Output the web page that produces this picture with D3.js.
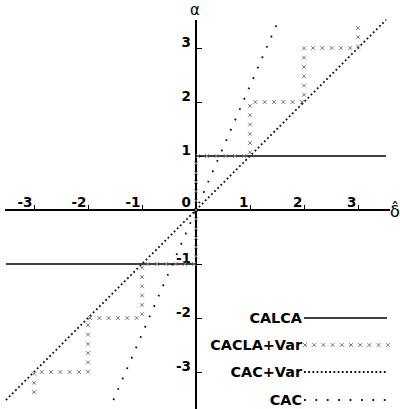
<!DOCTYPE html>
<html><head><meta charset="utf-8">
<script src="https://cdn.jsdelivr.net/npm/d3@7"></script>
<style>body{margin:0;background:#fff}svg{display:block}</style>
</head><body>
<svg id="c" width="400" height="409"></svg>
<script>
// ---- data ----
const tickValues = [-3, -2, -1, 1, 2, 3];
const tickLabels = ["-3", "-2", "-1", "1", "2", "3"];
const seriesNames = ["CALCA", "CACLA+Var", "CAC+Var", "CAC"];
// CALCA: alpha = sign(delta)
const calcaPos = [[0, 1], [3.52, 1]];
const calcaNeg = [[-3.52, -1], [0, -1]];
// CACLA+Var: staircase
const caclaPos = [[0, 0], [0, 1], [1, 1], [1, 2], [2, 2], [2, 3], [3, 3], [3, 3.52]];
const caclaNeg = [[0, 0], [0, -1], [-1, -1], [-1, -2], [-2, -2], [-2, -3], [-3, -3], [-3, -3.52]];
// CAC+Var: alpha = delta
const cacVar = [[-3.52, -3.52], [3.52, 3.52]];
// CAC: steep line
const cac = [[-1.53, -3.52], [1.53, 3.52]];

const svg = d3.select("#c");
const x = d3.scaleLinear().domain([-3.5, 3.5]).range([7, 385]);
const y = d3.scaleLinear().domain([-3.5, 3.5]).range([399, 21]);
const line = d3.line().x(d => x(d[0])).y(d => y(d[1]));
const font = "DejaVu Sans, sans-serif";
const fmt = d => tickLabels[tickValues.indexOf(d)];

// axes lines
svg.append("line").attr("x1", 5).attr("x2", 390).attr("y1", y(0)).attr("y2", y(0))
  .attr("stroke", "#000").attr("stroke-width", 2);
svg.append("line").attr("x1", x(0)).attr("x2", x(0)).attr("y1", 20).attr("y2", 409)
  .attr("stroke", "#000").attr("stroke-width", 2);

const gx = svg.append("g").attr("transform", `translate(0,${y(0)})`)
  .call(d3.axisTop(x).tickValues(tickValues).tickSize(5).tickSizeOuter(0).tickFormat(fmt));
gx.select(".domain").remove();
gx.selectAll("line").attr("stroke", "#000").attr("stroke-width", 1);
gx.selectAll("text").attr("text-anchor", "end").attr("x", -2).attr("y", -3).attr("dy", null)
  .attr("font-family", font).attr("font-weight", "bold").attr("font-size", 13.5).attr("fill", "#000");

const gy = svg.append("g").attr("transform", `translate(${x(0)},0)`)
  .call(d3.axisRight(y).tickValues(tickValues).tickSize(6).tickSizeOuter(0).tickFormat(fmt));
gy.select(".domain").remove();
gy.selectAll("line").attr("stroke", "#000").attr("stroke-width", 1);
gy.selectAll("text").attr("text-anchor", "end").attr("x", -5).attr("y", -1.5).attr("dy", null)
  .attr("font-family", font).attr("font-weight", "bold").attr("font-size", 13.5).attr("fill", "#000");

svg.append("text").attr("x", x(0) - 5).attr("y", y(0) - 3).attr("text-anchor", "end")
  .attr("font-family", font).attr("font-weight", "bold").attr("font-size", 13.5).text("0");

// axis titles
svg.append("text").attr("x", 195).attr("y", 15).attr("text-anchor", "middle")
  .attr("font-family", font).attr("font-size", 15).text("α");
svg.append("text").attr("x", 390).attr("y", 217)
  .attr("font-family", font).attr("font-size", 16).text("δ̂");

// CALCA
[calcaPos, calcaNeg].forEach(d => svg.append("path").attr("d", line(d))
  .attr("fill", "none").attr("stroke", "#000").attr("stroke-width", 1.5));

// CAC+Var (dense dots)
svg.append("path").attr("d", line(cacVar)).attr("fill", "none").attr("stroke", "#111")
  .attr("stroke-width", 1.8).attr("stroke-dasharray", "1.8 2.6");
// CAC (sparse dots)
svg.append("path").attr("d", line(cac)).attr("fill", "none").attr("stroke", "#111")
  .attr("stroke-width", 1.8).attr("stroke-dasharray", "1.8 9.5");

// CACLA+Var markers along the staircase
function xMarker(g, px, py) {
  g.append("path").attr("d", `M${px-2},${py-2}L${px+2},${py+2}M${px-2},${py+2}L${px+2},${py-2}`)
    .attr("stroke", "#8a8a8a").attr("stroke-width", 1).attr("fill", "none");
  g.append("rect").attr("x", px - 0.5).attr("y", py - 0.5).attr("width", 1).attr("height", 1).attr("fill", "#555");
}
const mg = svg.append("g");
[caclaPos, caclaNeg].forEach(d => {
  const p = svg.append("path").attr("d", line(d)).attr("fill", "none").attr("stroke", "none");
  const node = p.node();
  const L = node.getTotalLength();
  for (let s = 0; s <= L; s += 9.3) {
    const pt = node.getPointAtLength(s);
    xMarker(mg, pt.x, pt.y);
  }
});

// legend
const rows = [318, 345, 372, 400];
const lg = svg.append("g");
seriesNames.forEach((n, i) => {
  lg.append("text").attr("x", 302).attr("y", rows[i] + 5).attr("text-anchor", "end")
    .attr("font-family", font).attr("font-weight", "bold").attr("font-size", 14.4).text(n);
});
lg.append("line").attr("x1", 304).attr("x2", 387).attr("y1", rows[0]).attr("y2", rows[0])
  .attr("stroke", "#000").attr("stroke-width", 1.5);
for (let s = 305; s <= 388; s += 9.2) xMarker(lg, s, rows[1]);
lg.append("line").attr("x1", 304).attr("x2", 387).attr("y1", rows[2]).attr("y2", rows[2])
  .attr("stroke", "#111").attr("stroke-width", 1.8).attr("stroke-dasharray", "1.8 2.4");
lg.append("line").attr("x1", 304).attr("x2", 387).attr("y1", rows[3]).attr("y2", rows[3])
  .attr("stroke", "#111").attr("stroke-width", 1.8).attr("stroke-dasharray", "1.8 9.6");
</script>
</body></html>
